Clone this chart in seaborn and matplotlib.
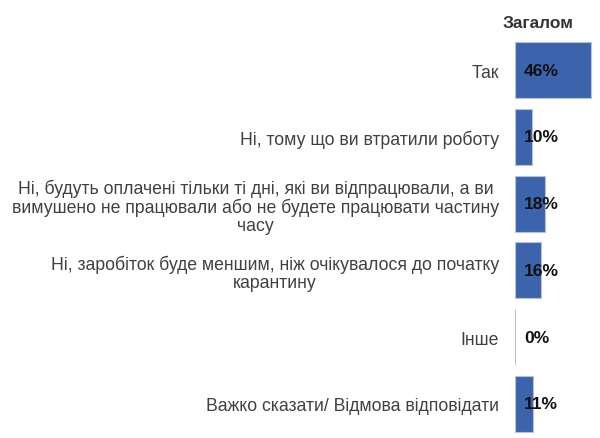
import matplotlib
matplotlib.use("Agg")
import matplotlib.pyplot as plt
import seaborn as sns
import pandas as pd

categories = [
    "Так",
    "Ні, тому що ви втратили роботу",
    "Ні, будуть оплачені тільки ті дні, які ви відпрацювали, а ви\nвимушено не працювали або не будете працювати частину\nчасу",
    "Ні, заробіток буде меншим, ніж очікувалося до початку\nкарантину",
    "Інше",
    "Важко сказати/ Відмова відповідати",
]
values = [46, 10, 18, 16, 0, 11]
value_labels = ["46%", "10%", "18%", "16%", "0%", "11%"]
title = "Загалом"

sns.set_theme(style="white")
plt.rcParams["font.family"] = ["Liberation Sans", "DejaVu Sans"]

df = pd.DataFrame({"cat": categories, "val": values})

fig = plt.figure(figsize=(6.0, 4.39), dpi=100)
ax = fig.add_axes([515 / 600, 0.0014, 80 / 600, 0.9126])
sns.barplot(data=df, y="cat", x="val", orient="h", color="#3B64AD",
            saturation=1, width=0.84, ax=ax)
for p in ax.patches:
    p.set_edgecolor("#b8c2d4")
    p.set_linewidth(0.8)

ax.set_xlim(0, 46 * 80 / 76)
ax.set_xlabel("")
ax.set_ylabel("")
ax.set_xticks([])
for s in ax.spines.values():
    s.set_visible(False)
ax.tick_params(axis="y", length=0, pad=11.5)
ax.set_yticks(range(len(categories)))
ax.set_yticklabels(categories, fontsize=12.7, color="#404040",
                   multialignment="center", linespacing=1.07)

for i, (v, lab) in enumerate(zip(values, value_labels)):
    ax.annotate(lab, xy=(0, i), xytext=(6.5, 0), textcoords="offset points",
                ha="left", va="center", fontsize=12.6, fontweight="bold",
                color="#111111")

fig.text(538 / 600, 1 - 28 / 439, title, ha="center", va="baseline",
         fontsize=12.4, fontweight="bold", color="#333333")

fig.savefig("out.png", dpi=100)
